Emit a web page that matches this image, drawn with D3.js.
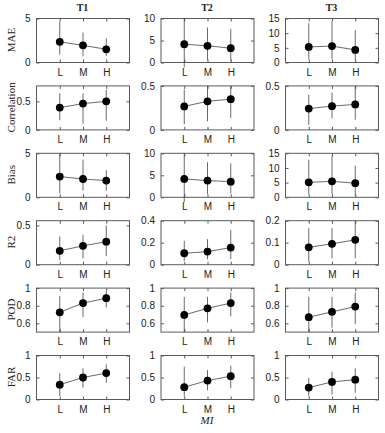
<!DOCTYPE html>
<html>
<head>
<meta charset="utf-8">
<script src="https://cdn.jsdelivr.net/npm/d3@7"></script>
<style>
  body { margin: 0; background: #fff; }
  svg { display: block; }
</style>
</head>
<body>
<div id="chart"></div>
<script>
const categories = ["L", "M", "H"];
const tasks = ["T1", "T2", "T3"];
const metrics = ["MAE", "Correlation", "Bias", "R2", "POD", "FAR"];

// mean values, one row per task (T1, T2, T3), columns L, M, H
const maeMean = [[2.35, 1.95, 1.5], [4.15, 3.8, 3.25], [5.3, 5.6, 4.3]];
const maeLow = [[0.9, 0.7, 0.75], [-1.1, 0.5, 0.4], [1.1, 1.1, 0.8]];
const maeHigh = [[4.65, 3.4, 2.75], [10, 7.95, 7.6], [13.4, 14, 11]];

const corMean = [[0.39, 0.46, 0.5], [0.267, 0.325, 0.349], [0.242, 0.27, 0.29]];
const corLow = [[0.17, 0.11, 0.16], [0.066, 0.097, 0.136], [0.058, 0.13, 0.115]];
const corHigh = [[0.64, 0.64, 0.7], [0.46, 0.5, 0.5], [0.4, 0.425, 0.5]];

const biasMean = [[2.35, 2.08, 1.9], [4.17, 3.8, 3.56], [5.1, 5.45, 4.8]];
const biasLow = [[0.45, 0.76, 0.76], [-1.1, 0.76, 0.9], [1.1, 1.1, 0.6]];
const biasHigh = [[5, 4.28, 3.1], [10, 7.95, 7.7], [12.8, 14.2, 10.8]];

const r2Mean = [[0.177, 0.24, 0.293], [0.104, 0.119, 0.156], [0.079, 0.095, 0.113]];
const r2Low = [[0.06, 0.08, 0.11], [0.034, 0.049, 0.052], [0.014, 0.029, 0.029]];
const r2High = [[0.36, 0.38, 0.5], [0.217, 0.232, 0.318], [0.166, 0.166, 0.2]];

const podMean = [[0.725, 0.83, 0.885], [0.695, 0.77, 0.83], [0.67, 0.73, 0.79]];
const podLow = [[0.5, 0.67, 0.78], [0.5, 0.61, 0.68], [0.5, 0.55, 0.59]];
const podHigh = [[0.91, 0.95, 0.97], [0.9, 0.9, 0.95], [0.9, 0.9, 0.95]];

const farMean = [[0.336, 0.5, 0.6], [0.28, 0.43, 0.53], [0.27, 0.4, 0.45]];
const farLow = [[0.08, 0.27, 0.38], [0.07, 0.21, 0.26], [0.07, 0.11, 0.15]];
const farHigh = [[0.6, 0.71, 0.8], [0.75, 0.67, 0.77], [0.49, 0.63, 0.71]];

// y axis limits and ticks, per metric then per task
const yDomains = [
    [[0, 5], [0, 10], [0, 15]],
    [[0, 0.77], [0, 0.5], [0, 0.5]],
    [[0, 5], [0, 10], [0, 15]],
    [[0, 0.56], [0, 0.4], [0, 0.2]],
    [[0.5, 1], [0.5, 1], [0.5, 1]],
    [[0, 1], [0, 1], [0, 1]]
];
const yTicks = [
    [[0, 5], [0, 5, 10], [0, 5, 10, 15]],
    [[0, 0.5], [0, 0.5], [0, 0.5]],
    [[0, 5], [0, 5, 10], [0, 5, 10, 15]],
    [[0, 0.5], [0, 0.2, 0.4], [0, 0.1, 0.2]],
    [[0.6, 0.8, 1], [0.6, 0.8, 1], [0.6, 0.8, 1]],
    [[0, 0.5, 1], [0, 0.5, 1], [0, 0.5, 1]]
];

const means = [maeMean, corMean, biasMean, r2Mean, podMean, farMean];
const lows = [maeLow, corLow, biasLow, r2Low, podLow, farLow];
const highs = [maeHigh, corHigh, biasHigh, r2High, podHigh, farHigh];

const W = 385, H = 433;
const panelW = 93, panelH = 44;

const svg = d3.select("#chart")
    .append("svg")
    .attr("width", W)
    .attr("height", H);

// panel placement
const colX = d3.scaleLinear().domain([0, 2]).range([36, 285]);
const rowY = d3.scaleLinear().domain([0, 5]).range([18, 355]);

// x scale shared by all panels (MATLAB errorbar: xlim 0..4)
const x = d3.scaleLinear().domain([0, 4]).range([0, panelW]);
const xPos = d3.scaleOrdinal().domain(categories).range([1, 2, 3]);

const tickFont = "'Liberation Sans', Arial, sans-serif";
const serif = "'Liberation Serif', 'Times New Roman', serif";

metrics.forEach(function (metric, r) {
    tasks.forEach(function (task, c) {
        const g = svg.append("g")
            .attr("transform", `translate(${colX(c)}, ${rowY(r)})`);

        const y = d3.scaleLinear()
            .domain(yDomains[r][c])
            .range([panelH, 0]);

        // box
        g.append("rect")
            .attr("x", 0.5)
            .attr("y", 0.5)
            .attr("width", panelW)
            .attr("height", panelH)
            .attr("fill", "none")
            .attr("stroke", "#5a5a5a")
            .attr("stroke-width", 1);

        // y ticks, inward on left and right
        const yAxis = g.append("g")
            .attr("transform", "translate(0.5, 0.5)")
            .call(d3.axisLeft(y).tickValues(yTicks[r][c]).tickSize(-3).tickPadding(6)
                .tickFormat(d3.format("~g")));
        g.append("g")
            .attr("transform", `translate(${panelW + 0.5}, 0.5)`)
            .call(d3.axisRight(y).tickValues(yTicks[r][c]).tickSize(-3).tickFormat(""));

        // x ticks, inward on bottom and top
        const xAxis = g.append("g")
            .attr("transform", `translate(0.5, ${panelH + 0.5})`)
            .call(d3.axisBottom(x).tickValues([1, 2, 3]).tickSize(-3).tickPadding(6)
                .tickFormat((d, i) => categories[i]));
        g.append("g")
            .attr("transform", "translate(0.5, 0.5)")
            .call(d3.axisTop(x).tickValues([1, 2, 3]).tickSize(-3).tickFormat(""));

        g.selectAll(".domain").remove();
        g.selectAll(".tick line").attr("stroke", "#5a5a5a");
        g.selectAll(".tick text")
            .attr("fill", "#222")
            .style("font-family", tickFont)
            .style("font-size", "10px");

        const pts = categories.map((cat, i) => ({
            cat: cat,
            mean: means[r][c][i],
            lo: lows[r][c][i],
            hi: highs[r][c][i]
        }));

        // error bars
        g.selectAll(".err")
            .data(pts)
            .enter()
            .append("line")
            .attr("x1", d => x(xPos(d.cat)) + 0.5)
            .attr("x2", d => x(xPos(d.cat)) + 0.5)
            .attr("y1", d => y(d.lo) + 0.5)
            .attr("y2", d => y(d.hi) + 0.5)
            .attr("stroke", "#444")
            .attr("stroke-width", 0.8);

        // connecting line
        g.append("path")
            .datum(pts)
            .attr("fill", "none")
            .attr("stroke", "#444")
            .attr("stroke-width", 0.8)
            .attr("d", d3.line()
                .x(d => x(xPos(d.cat)) + 0.5)
                .y(d => y(d.mean) + 0.5));

        // markers
        g.selectAll(".pt")
            .data(pts)
            .enter()
            .append("circle")
            .attr("cx", d => x(xPos(d.cat)) + 0.5)
            .attr("cy", d => y(d.mean) + 0.5)
            .attr("r", 3.9)
            .attr("fill", "#000");

        // row label
        if (c === 0) {
            g.append("text")
                .attr("transform", `translate(-21, ${panelH / 2}) rotate(-90)`)
                .attr("text-anchor", "middle")
                .style("font-family", serif)
                .style("font-size", "11px")
                .attr("fill", "#222")
                .text(metric);
        }
        // column title
        if (r === 0) {
            g.append("text")
                .attr("x", panelW / 2)
                .attr("y", -7)
                .attr("text-anchor", "middle")
                .style("font-family", serif)
                .style("font-size", "10px")
                .style("font-weight", "bold")
                .attr("fill", "#222")
                .text(task);
        }
    });
});

// x axis label
svg.append("text")
    .attr("x", colX(1) + panelW / 2)
    .attr("y", 424)
    .attr("text-anchor", "middle")
    .style("font-family", serif)
    .style("font-size", "11px")
    .style("font-style", "italic")
    .attr("fill", "#222")
    .text("MI");
</script>
</body>
</html>
